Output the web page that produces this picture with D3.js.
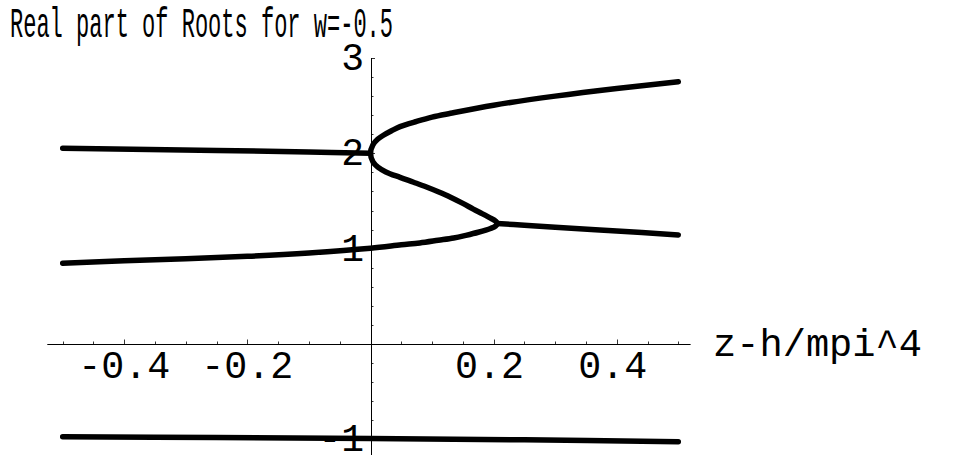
<!DOCTYPE html>
<html>
<head>
<meta charset="utf-8">
<script src="https://cdn.jsdelivr.net/npm/d3@7"></script>
<style>
  html, body { margin: 0; padding: 0; background: #fff; }
  svg { display: block; }
  text { font-family: "Courier New", Courier, "Liberation Mono", monospace; fill: #000; }
</style>
</head>
<body>
<svg id="chart" width="956" height="455"></svg>
<script>
// Root branches: real part vs z-h/mpi^4
const upperX = [0, 0.004, 0.012, 0.021, 0.035, 0.048, 0.075, 0.1, 0.13, 0.2, 0.3, 0.4, 0.5];
const upperY = [2.00, 2.09, 2.15, 2.19, 2.24, 2.28, 2.335, 2.38, 2.42, 2.505, 2.60, 2.68, 2.75];

const middleX = [0, 0.004, 0.012, 0.025, 0.048, 0.07, 0.091, 0.11, 0.13, 0.15, 0.167, 0.182, 0.195, 0.203, 0.206];
const middleY = [2.00, 1.91, 1.855, 1.805, 1.748, 1.697, 1.647, 1.597, 1.54, 1.475, 1.415, 1.365, 1.32, 1.29, 1.265];

const lowerX = [-0.5, -0.4, -0.3, -0.2, -0.1, 0, 0.05, 0.08, 0.11, 0.135, 0.155, 0.175, 0.195, 0.203, 0.206];
const lowerY = [0.847, 0.872, 0.895, 0.92, 0.955, 1.004, 1.04, 1.06, 1.088, 1.112, 1.14, 1.172, 1.212, 1.237, 1.265];

const leftTopX = [-0.5, -0.25, -0.1, 0];
const leftTopY = [2.053, 2.03, 2.015, 2.00];

const rightX = [0.206, 0.25, 0.3, 0.4, 0.5];
const rightY = [1.265, 1.245, 1.225, 1.185, 1.144];

const bottomX = [-0.5, -0.25, 0, 0.25, 0.5];
const bottomY = [-0.973, -0.98, -0.99, -1.005, -1.025];

// Axis ticks and labels
const xMajorTicks = [-0.4, -0.2, 0.2, 0.4];
const xTickLabels = ["-0.4", "-0.2", "0.2", "0.4"];
const yMajorTicks = [-1, 1, 2, 3];
const yTickLabels = ["-1", "1", "2", "3"];

const titleText = "Real part of Roots for w=-0.5";
const xAxisLabel = "z-h/mpi^4";

const svg = d3.select("#chart");

const x = d3.scaleLinear().domain([-0.5, 0.5]).range([62.7, 678.3]);
const y = d3.scaleLinear().domain([0, 3]).range([344, 58]);

const zip = (xs, ys) => xs.map((v, i) => [v, ys[i]]);

// ---- axes ----
const axes = svg.append("g").attr("stroke", "#000").attr("stroke-width", 1);

// horizontal axis line through y = 0
axes.append("line")
  .attr("x1", x(-0.525)).attr("x2", x(0.52))
  .attr("y1", y(0) + 0.5).attr("y2", y(0) + 0.5);

// vertical axis line through x = 0
axes.append("line")
  .attr("x1", Math.round(x(0)) + 0.5).attr("x2", Math.round(x(0)) + 0.5)
  .attr("y1", y(3)).attr("y2", y(-1.2));

// x ticks (every 0.05, longer at multiples of 0.2)
const xTicks = d3.range(-10, 11).map(i => i * 0.05).filter(v => Math.abs(v) > 1e-9);
const isMajorX = v => Math.abs(v / 0.2 - Math.round(v / 0.2)) < 1e-6;
axes.selectAll("line.xt").data(xTicks).join("line")
  .attr("class", "xt")
  .attr("x1", d => Math.round(x(d)) + 0.5).attr("x2", d => Math.round(x(d)) + 0.5)
  .attr("y1", y(0))
  .attr("y2", d => y(0) - (isMajorX(d) ? 4.5 : 2.5))
  .attr("stroke-width", 0.8);

// y ticks (every 0.2, longer at integers)
const yTicks = d3.range(-5, 16).map(i => i * 0.2).filter(v => Math.abs(v) > 1e-9);
const isMajorY = v => Math.abs(v - Math.round(v)) < 1e-6;
axes.selectAll("line.yt").data(yTicks).join("line")
  .attr("class", "yt")
  .attr("x1", Math.round(x(0)))
  .attr("x2", d => Math.round(x(0)) + (isMajorY(d) ? 4 : 2.5))
  .attr("y1", d => Math.round(y(d)) + 0.5).attr("y2", d => Math.round(y(d)) + 0.5)
  .attr("stroke-width", 0.8);

// ---- curves ----
const line = d3.line()
  .x(d => x(d[0]))
  .y(d => y(d[1]))
  .curve(d3.curveCatmullRom.alpha(0.5));

// upper branch (reversed) -> middle branch -> lower branch (reversed): one continuous S-curve
const sCurve = zip(upperX, upperY).reverse()
  .concat(zip(middleX, middleY).slice(1))
  .concat(zip(lowerX, lowerY).reverse().slice(1));

const curves = [
  sCurve,
  zip(leftTopX, leftTopY),
  zip(rightX, rightY),
  zip(bottomX, bottomY)
];

svg.append("g")
  .selectAll("path").data(curves).join("path")
  .attr("d", line)
  .attr("fill", "none")
  .attr("stroke", "#000")
  .attr("stroke-width", 5.5)
  .attr("stroke-linecap", "round")
  .attr("stroke-linejoin", "round");

// ---- labels ----
svg.append("text")
  .attr("x", 10).attr("y", 36.5)
  .attr("font-size", 42)
  .attr("textLength", 383)
  .attr("lengthAdjust", "spacingAndGlyphs")
  .text(titleText);

svg.append("g").selectAll("text").data(xMajorTicks).join("text")
  .attr("x", d => x(d) - (d > 0 ? 4 : 0))
  .attr("y", 378)
  .attr("text-anchor", "middle")
  .attr("font-size", 38)
  .attr("textLength", (d, i) => 23 * xTickLabels[i].length)
  .attr("lengthAdjust", "spacingAndGlyphs")
  .text((d, i) => xTickLabels[i]);

svg.append("g").selectAll("text").data(yMajorTicks).join("text")
  .attr("x", 364)
  .attr("y", d => y(d) + 12)
  .attr("text-anchor", "end")
  .attr("font-size", 38)
  .text((d, i) => yTickLabels[i]);

svg.append("text")
  .attr("x", 713).attr("y", 356)
  .attr("font-size", 38)
  .attr("textLength", 209)
  .attr("lengthAdjust", "spacingAndGlyphs")
  .text(xAxisLabel);
</script>
</body>
</html>
